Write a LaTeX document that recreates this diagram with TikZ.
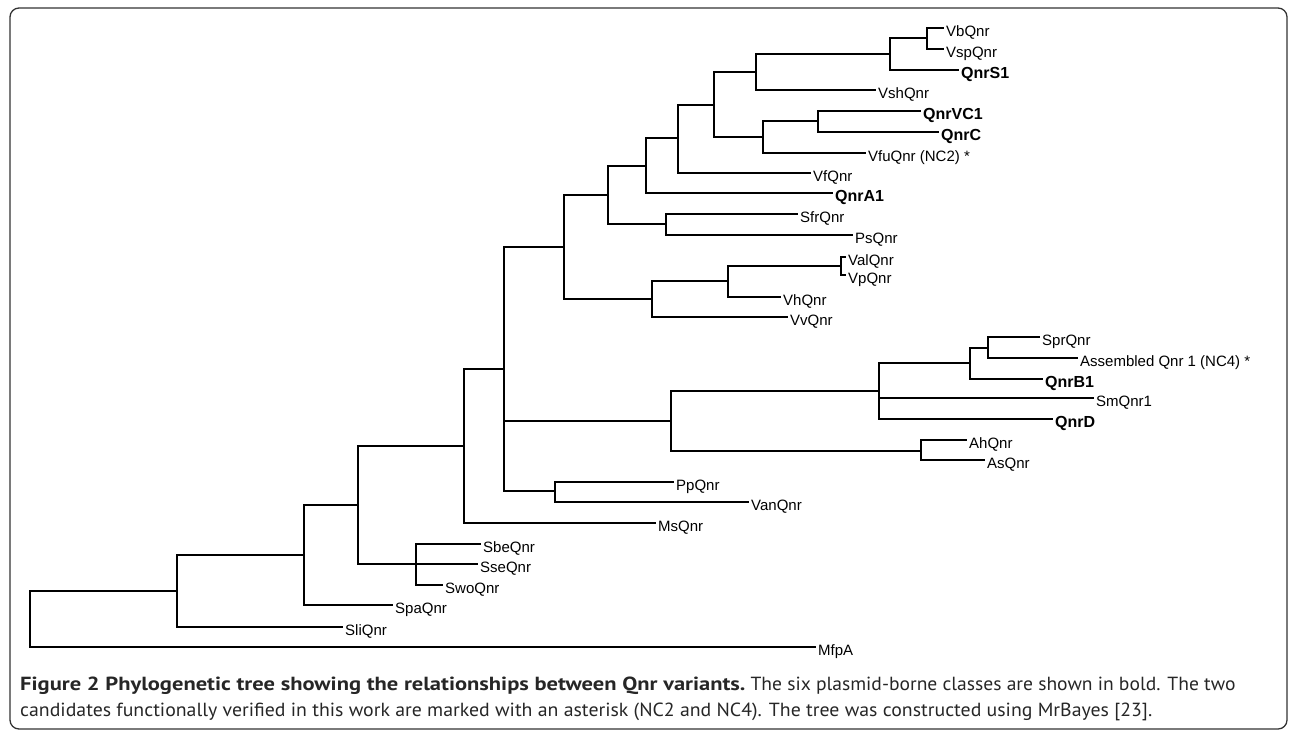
\documentclass[tikz,border=0pt]{standalone}
\usepackage{fontspec}
\usepackage{graphicx}
\setmainfont{Liberation Sans}
\newfontfamily\capfont{PT Sans}
\begin{document}
\begin{tikzpicture}[x=1pt,y=-1pt,
  br/.style={line width=2.6pt, line cap=rect, line join=miter},
  lbl/.style={anchor=base west, inner sep=0pt, xshift=3pt, yshift=-8pt, font=\fontsize{15}{17}\selectfont},
  blbl/.style={lbl, font=\fontsize{16}{18}\selectfont\bfseries},
  captxt/.style={anchor=base west, inner sep=0pt, text=black!85, font=\capfont\fontsize{19}{22}\selectfont}]
\useasboundingbox (0,0) rectangle (1290,731);
\draw[line width=1.3pt, draw=black!80, rounded corners=9pt] (10,8) rectangle (1287,729);
% internal nodes
\coordinate (r) at (30,591);
\coordinate (n177) at (177,591);
\coordinate (n304) at (304,555);
\coordinate (n358) at (358,505);
\coordinate (nS) at (416,564);
\coordinate (n464) at (464,446);
\coordinate (n504) at (504,369);
\coordinate (n555) at (555,491);
\coordinate (n671) at (671,421);
\coordinate (n921) at (921,451);
\coordinate (n879) at (879,391);
\coordinate (n970) at (970,363);
\coordinate (n988) at (988,348);
\coordinate (n564) at (564,247);
\coordinate (n652) at (652,299);
\coordinate (n728) at (728,281);
\coordinate (n841) at (841,266);
\coordinate (n608) at (608,195);
\coordinate (n666) at (666,224);
\coordinate (n646) at (646,166);
\coordinate (n678) at (678,138);
\coordinate (n714) at (714,105);
\coordinate (n763) at (763,137);
\coordinate (n818) at (818,121);
\coordinate (n756) at (756,72);
\coordinate (n890) at (890,54);
\coordinate (n927) at (927,38);
% leaf tips
\coordinate (tVb) at (943,28);
\coordinate (tVsp) at (943,49);
\coordinate (tS1) at (958,70);
\coordinate (tVsh) at (875,90);
\coordinate (tVC1) at (920,111);
\coordinate (tC) at (938,132);
\coordinate (tVfu) at (865,153);
\coordinate (tVf) at (810,173);
\coordinate (tA1) at (832,193);
\coordinate (tSfr) at (797,214);
\coordinate (tPs) at (852,235);
\coordinate (tVal) at (845,257);
\coordinate (tVp) at (845,275);
\coordinate (tVh) at (780,297);
\coordinate (tVv) at (787,317);
\coordinate (tSpr) at (1039,337);
\coordinate (tAsm) at (1077,358);
\coordinate (tB1) at (1042,379);
\coordinate (tSm) at (1093,398);
\coordinate (tD) at (1052,419);
\coordinate (tAh) at (966,440);
\coordinate (tAs) at (984,460);
\coordinate (tPp) at (673,482);
\coordinate (tVan) at (748,502);
\coordinate (tMs) at (655,523);
\coordinate (tSbe) at (480,544);
\coordinate (tSse) at (477,564);
\coordinate (tSwo) at (442,585);
\coordinate (tSpa) at (392,605);
\coordinate (tSli) at (342,627);
\coordinate (tMfp) at (815,647);
% branches
\draw[br] (r) |- (n177);
\draw[br] (r) |- (tMfp);
\draw[br] (n177) |- (n304);
\draw[br] (n177) |- (tSli);
\draw[br] (n304) |- (n358);
\draw[br] (n304) |- (tSpa);
\draw[br] (n358) |- (n464);
\draw[br] (n358) |- (nS);
\draw[br] (nS) |- (tSbe);
\draw[br] (nS) |- (tSse);
\draw[br] (nS) |- (tSwo);
\draw[br] (n464) |- (n504);
\draw[br] (n464) |- (tMs);
\draw[br] (n504) |- (n564);
\draw[br] (n504) |- (n671);
\draw[br] (n504) |- (n555);
\draw[br] (n555) |- (tPp);
\draw[br] (n555) |- (tVan);
\draw[br] (n671) |- (n879);
\draw[br] (n671) |- (n921);
\draw[br] (n921) |- (tAh);
\draw[br] (n921) |- (tAs);
\draw[br] (n879) |- (n970);
\draw[br] (n879) |- (tSm);
\draw[br] (n879) |- (tD);
\draw[br] (n970) |- (n988);
\draw[br] (n970) |- (tB1);
\draw[br] (n988) |- (tSpr);
\draw[br] (n988) |- (tAsm);
\draw[br] (n564) |- (n608);
\draw[br] (n564) |- (n652);
\draw[br] (n652) |- (n728);
\draw[br] (n652) |- (tVv);
\draw[br] (n728) |- (n841);
\draw[br] (n728) |- (tVh);
\draw[br] (n841) |- (tVal);
\draw[br] (n841) |- (tVp);
\draw[br] (n608) |- (n646);
\draw[br] (n608) |- (n666);
\draw[br] (n666) |- (tSfr);
\draw[br] (n666) |- (tPs);
\draw[br] (n646) |- (n678);
\draw[br] (n646) |- (tA1);
\draw[br] (n678) |- (n714);
\draw[br] (n678) |- (tVf);
\draw[br] (n714) |- (n756);
\draw[br] (n714) |- (n763);
\draw[br] (n763) |- (n818);
\draw[br] (n763) |- (tVfu);
\draw[br] (n818) |- (tVC1);
\draw[br] (n818) |- (tC);
\draw[br] (n756) |- (n890);
\draw[br] (n756) |- (tVsh);
\draw[br] (n890) |- (n927);
\draw[br] (n890) |- (tS1);
\draw[br] (n927) |- (tVb);
\draw[br] (n927) |- (tVsp);
% labels
\node[lbl] (Vb) at (tVb) {VbQnr};
\node[lbl] (Vsp) at (tVsp) {VspQnr};
\node[blbl] (S1) at (tS1) {QnrS1};
\node[lbl] (Vsh) at (tVsh) {VshQnr};
\node[blbl] (VC1) at (tVC1) {QnrVC1};
\node[blbl] (C) at (tC) {QnrC};
\node[lbl] (Vfu) at (tVfu) {VfuQnr (NC2) *};
\node[lbl] (Vf) at (tVf) {VfQnr};
\node[blbl] (A1) at (tA1) {QnrA1};
\node[lbl] (Sfr) at (tSfr) {SfrQnr};
\node[lbl] (Ps) at (tPs) {PsQnr};
\node[lbl] (Val) at (tVal) {ValQnr};
\node[lbl] (Vp) at (tVp) {VpQnr};
\node[lbl] (Vh) at (tVh) {VhQnr};
\node[lbl] (Vv) at (tVv) {VvQnr};
\node[lbl] (Spr) at (tSpr) {SprQnr};
\node[lbl] (Asm) at (tAsm) {Assembled Qnr 1 (NC4) *};
\node[blbl] (B1) at (tB1) {QnrB1};
\node[lbl] (Sm) at (tSm) {SmQnr1};
\node[blbl] (D) at (tD) {QnrD};
\node[lbl] (Ah) at (tAh) {AhQnr};
\node[lbl] (As) at (tAs) {AsQnr};
\node[lbl] (Pp) at (tPp) {PpQnr};
\node[lbl] (Van) at (tVan) {VanQnr};
\node[lbl] (Ms) at (tMs) {MsQnr};
\node[lbl] (Sbe) at (tSbe) {SbeQnr};
\node[lbl] (Sse) at (tSse) {SseQnr};
\node[lbl] (Swo) at (tSwo) {SwoQnr};
\node[lbl] (Spa) at (tSpa) {SpaQnr};
\node[lbl] (Sli) at (tSli) {SliQnr};
\node[lbl] (Mfp) at (tMfp) {MfpA};
% caption
\node[captxt] (cap1) at (20,690) {\scalebox{1.185}[1]{\textbf{Figure 2 Phylogenetic tree showing the relationships between Qnr variants.}} \scalebox{1.03}[1]{The six plasmid-borne classes are shown in bold. The two}};
\node[captxt] (cap2) at (20,716) {\scalebox{1.043}[1]{candidates functionally verified in this work are marked with an asterisk (NC2 and NC4). The tree was constructed using MrBayes [23].}};
\end{tikzpicture}
\end{document}
